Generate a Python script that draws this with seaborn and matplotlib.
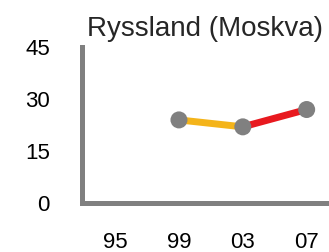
import numpy as np
import pandas as pd
import matplotlib
matplotlib.use("Agg")
import matplotlib.pyplot as plt
import seaborn as sns

title = "Ryssland (Moskva)"
years = ["95", "99", "03", "07"]
values = [np.nan, 24, 22, 27]
segment_colors = ["#F4B41A", "#E8191F"]  # 99->03, 03->07
yticks = [0, 15, 30, 45]

sns.set_style("white")
plt.rcParams['font.family'] = ['Liberation Sans', 'DejaVu Sans']

df = pd.DataFrame({"pos": np.arange(len(years)), "year": years, "value": values})
valid = df.dropna().reset_index(drop=True)

fig = plt.figure(figsize=(3.29, 2.52), dpi=100)
ax = fig.add_axes([0.249, 0.194, 0.751, 0.619])

for i in range(len(valid) - 1):
    seg = valid.iloc[i:i + 2]
    sns.lineplot(data=seg, x="pos", y="value", ax=ax, color=segment_colors[i],
                 linewidth=5, solid_capstyle="butt", legend=False)
sns.scatterplot(data=valid, x="pos", y="value", ax=ax, color="#808080",
                s=150, edgecolor="none", zorder=5, legend=False)

ax.set_xlim(-0.52, 3.35)
ax.set_ylim(0, 45)
ax.set_xticks(df["pos"])
ax.set_xticklabels(years)
ax.set_yticks(yticks)
ax.set_xlabel("")
ax.set_ylabel("")
for s in ["top", "right"]:
    ax.spines[s].set_visible(False)
for s in ["left", "bottom"]:
    ax.spines[s].set_color("#808080")
    ax.spines[s].set_linewidth(3.6)
ax.tick_params(axis="x", length=0, pad=21, labelsize=16, colors="black")
ax.tick_params(axis="y", length=3, width=1.5, color="#808080", pad=20, labelsize=16, labelcolor="black")
ax.set_title(title, fontsize=20, pad=8)

fig.savefig("out.png", dpi=100)
